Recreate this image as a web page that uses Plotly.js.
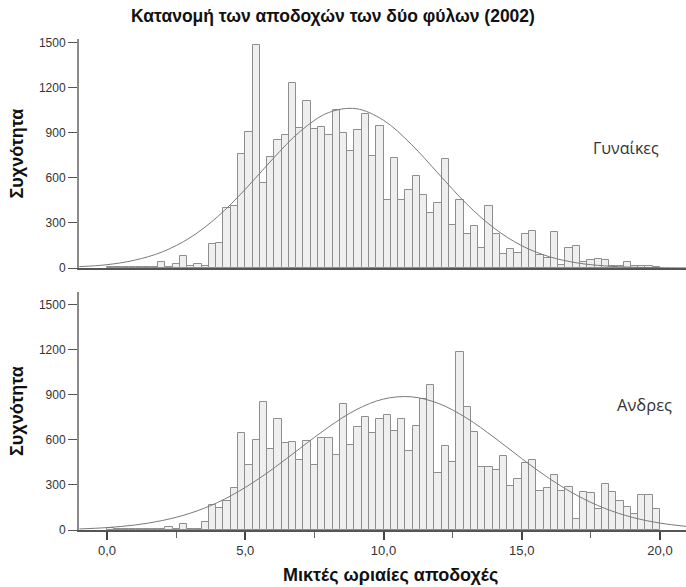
<!DOCTYPE html>
<html>
<head>
<meta charset="utf-8">
<script src="https://cdn.plot.ly/plotly-3.0.1.min.js"></script>
<style>html,body{margin:0;padding:0;background:#fff;}#chart{width:686px;height:587px;}</style>
</head>
<body>
<div id="chart"></div>
<script>
// Histogram bins: 76 equal bins from 0 to 20 (hourly gross earnings)
const binStart = 0;
const binEnd = 20;
const binCount = 76;

// Frequencies per bin
const womenCounts = [8, 5, 6, 5, 8, 6, 10, 40, 5, 29,
  78, 16, 29, 13, 158, 169, 396, 413, 758, 904,
  1482, 562, 736, 849, 882, 1227, 933, 1111, 922, 938,
  882, 1047, 895, 775, 916, 1024, 747, 944, 449, 729,
  449, 518, 609, 487, 364, 433, 722, 289, 453, 224,
  276, 133, 409, 224, 96, 129, 103, 223, 248, 87,
  69, 240, 20, 133, 144, 40, 51, 62, 51, 16,
  11, 40, 16, 11, 16, 7];
const menCounts = [10, 8, 6, 8, 6, 8, 5, 5, 22, 5,
  40, 5, 5, 51, 169, 147, 196, 276, 644, 429,
  596, 851, 540, 740, 580, 584, 467, 589, 429, 611,
  611, 500, 836, 567, 687, 749, 644, 740, 764, 660,
  740, 524, 693, 869, 964, 380, 562, 453, 1187, 820,
  651, 420, 416, 396, 491, 291, 339, 443, 464, 261,
  276, 367, 262, 289, 73, 251, 244, 140, 307, 251,
  191, 156, 107, 236, 236, 140];

// Fitted normal curves
const curveX = [-1, 0, 1, 2, 3, 4, 5, 6, 7, 8, 9, 10, 11, 12, 13, 14, 15, 16, 17, 18, 19, 20, 21];
const womenCurve = [9, 22, 52, 107, 201, 341, 523, 726, 910, 1032, 1059, 982, 823, 624, 427, 265, 148, 75, 34, 14, 5, 2, 0.5];
const menCurve = [7, 16, 33, 63, 111, 183, 283, 407, 546, 683, 799, 871, 886, 841, 745, 616, 475, 342, 230, 144, 84, 46, 23];

const xTicks = [0, 5, 10, 15, 20];
const xMinorTicks = [2.5, 7.5, 12.5, 17.5];
const yTicks = [0, 300, 600, 900, 1200, 1500];

const chartTitle = 'Κατανομή των αποδοχών των δύο φύλων (2002)';
const xTitle = 'Μικτές ωριαίες αποδοχές';
const yTitle = 'Συχνότητα';
const panelLabels = ['Γυναίκες', 'Ανδρες'];

const binWidth = (binEnd - binStart) / binCount;
const centers = womenCounts.map((_, i) => binStart + binWidth * (i + 0.5));

const barStyle = {color: '#efefef', line: {color: '#8e8e8e', width: 1}};
const curveStyle = {color: '#7a7a7a', width: 1, shape: 'spline', smoothing: 1};

const traces = [
  {type: 'bar', x: centers, y: womenCounts, width: binWidth, marker: barStyle, xaxis: 'x2', yaxis: 'y2', hoverinfo: 'x+y'},
  {type: 'scatter', mode: 'lines', x: curveX, y: womenCurve, line: curveStyle, xaxis: 'x2', yaxis: 'y2', hoverinfo: 'skip'},
  {type: 'bar', x: centers, y: menCounts, width: binWidth, marker: barStyle, xaxis: 'x', yaxis: 'y', hoverinfo: 'x+y'},
  {type: 'scatter', mode: 'lines', x: curveX, y: menCurve, line: curveStyle, xaxis: 'x', yaxis: 'y', hoverinfo: 'skip'}
];

const FONT = '"Liberation Sans", Arial, sans-serif';
const LABELFONT = '"Open Sans", "Noto Sans", sans-serif';
const xRange = [-1.013, 20.94];

const yCommon = {
  tickvals: yTicks, tickformat: 'd', ticks: 'outside', ticklen: 9, tickwidth: 1, tickcolor: '#555',
  showline: true, linecolor: '#8a8a8a', linewidth: 2, showgrid: false, zeroline: false,
  tickfont: {family: FONT, size: 12, color: '#333'}, fixedrange: true
};

const titleFont = {family: FONT, size: 18, color: '#111', weight: 'bold'};

const layout = {
  width: 686, height: 587,
  margin: {l: 79, r: 0, t: 39, b: 57},
  paper_bgcolor: '#ffffff', plot_bgcolor: '#ffffff',
  separators: ',.',
  showlegend: false,
  bargap: 0,
  font: {family: FONT, color: '#222'},
  title: {text: chartTitle, x: 333 / 686, xref: 'container', xanchor: 'center', y: 1 - 16 / 587, yref: 'container', yanchor: 'middle',
    font: {family: FONT, size: 17.5, color: '#111', weight: 'bold'}},
  xaxis: {
    anchor: 'y', domain: [0, 1], range: xRange,
    tickvals: xTicks, tickformat: '.1f', ticks: 'outside', ticklen: 8, tickwidth: 1.5, tickcolor: '#444',
    minor: {tickvals: xMinorTicks, ticks: 'outside', ticklen: 6, tickwidth: 1.2, tickcolor: '#666'},
    showline: true, linecolor: '#555', linewidth: 1.5, showgrid: false, zeroline: false,
    tickfont: {family: FONT, size: 13, color: '#333'}, fixedrange: true
  },
  xaxis2: {
    anchor: 'y2', domain: [0, 1], range: xRange, matches: 'x',
    showticklabels: false, ticks: '',
    showline: true, linecolor: '#555', linewidth: 1.5, showgrid: false, zeroline: false, fixedrange: true
  },
  yaxis: Object.assign({anchor: 'x', domain: [0, 0.4847], range: [0, 1583]}, yCommon),
  yaxis2: Object.assign({anchor: 'x2', domain: [0.5336, 1], range: [0, 1522]}, yCommon),
  annotations: [
    {text: xTitle, xref: 'paper', yref: 'paper', x: (390 - 79) / 607, y: -45 / 491, xanchor: 'center', yanchor: 'middle', showarrow: false,
      font: titleFont},
    {text: yTitle, xref: 'paper', yref: 'y2 domain', x: -62 / 607, y: 0.5, xanchor: 'center', yanchor: 'middle', textangle: -90, showarrow: false,
      font: titleFont},
    {text: yTitle, xref: 'paper', yref: 'y domain', x: -62 / 607, y: 0.5, xanchor: 'center', yanchor: 'middle', textangle: -90, showarrow: false,
      font: titleFont},
    {text: panelLabels[0], xref: 'x2', yref: 'y2', x: 18.77, y: 796, xanchor: 'center', yanchor: 'middle', showarrow: false,
      font: {family: LABELFONT, size: 16, color: '#333'}},
    {text: panelLabels[1], xref: 'x', yref: 'y', x: 19.44, y: 835, xanchor: 'center', yanchor: 'middle', showarrow: false,
      font: {family: LABELFONT, size: 16.5, color: '#333'}}
  ]
};

Plotly.newPlot('chart', traces, layout, {displayModeBar: false});
</script>
</body>
</html>
